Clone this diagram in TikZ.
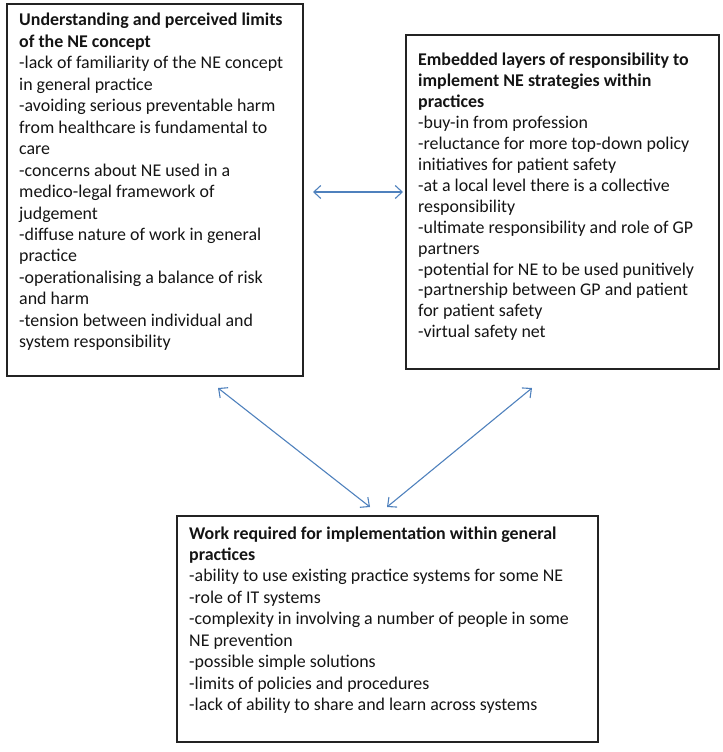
\documentclass[tikz,border=0pt]{standalone}
\usepackage{fontspec}
\setmainfont{Carlito}
\usetikzlibrary{arrows.meta,calc}
\definecolor{arrowblue}{RGB}{79,129,189}
\definecolor{boxline}{RGB}{35,35,35}
\definecolor{txtcol}{RGB}{20,20,20}
\begin{document}
\begin{tikzpicture}[x=1bp,y=-1bp,
  box/.style={draw=boxline, line width=1.3bp, inner sep=0pt, outer sep=0pt, anchor=north west},
  txt/.style={anchor=base west, inner sep=0pt, text=txtcol, font=\fontsize{17.9bp}{21.45bp}\selectfont},
  link/.style={draw=arrowblue, line width=1.1bp, {Straight Barb[length=7bp,width=13bp]}-{Straight Barb[length=7bp,width=13bp]}}]
\useasboundingbox (0,0) rectangle (723,752);
% boxes
\node[box, minimum width=296bp, minimum height=372bp] (L) at (7,4) {};
\node[box, minimum width=313bp, minimum height=334bp] (R) at (406,35) {};
\node[box, minimum width=421bp, minimum height=226bp] (B) at (177,516) {};
% texts
\node[txt] (Lt) at (19,26) {\parbox[t]{320bp}{\raggedright
\textbf{Understanding and perceived limits}\\
\textbf{of the NE concept}\\
-lack of familiarity of the NE concept\\
in general practice\\
-avoiding serious preventable harm\\
from healthcare is fundamental to\\
care\\
-concerns about NE used in a\\
medico-legal framework of\\
judgement\\
-diffuse nature of work in general\\
practice\\
-operationalising a balance of risk\\
and harm\\
-tension between individual and\\
system responsibility}};
\node[txt] (Rt) at (418,66) {\parbox[t]{320bp}{\raggedright\fontsize{17.9bp}{20.9bp}\selectfont
\textbf{Embedded layers of responsibility to}\\
\textbf{implement NE strategies within}\\
\textbf{practices}\\
-buy-in from profession\\
-reluctance for more top-down policy\\
initiatives for patient safety\\
-at a local level there is a collective\\
responsibility\\
-ultimate responsibility and role of GP\\
partners\\
-potential for NE to be used punitively\\
-partnership between GP and patient\\
for patient safety\\
-virtual safety net}};
\node[txt] (Bt) at (189,539) {\parbox[t]{420bp}{\raggedright
\textbf{Work required for implementation within general}\\
\textbf{practices}\\
-ability to use existing practice systems for some NE\\
-role of IT systems\\
-complexity in involving a number of people in some\\
NE prevention\\
-possible simple solutions\\
-limits of policies and procedures\\
-lack of ability to share and learn across systems}};
% connector ends
\coordinate (h1) at ([xshift=10bp]L.east |- 0,192);
\coordinate (h2) at ([xshift=-3bp]R.west |- 0,192);
\coordinate (d1) at ([xshift=211bp,yshift=-12bp]L.south west);
\coordinate (d2) at ([xshift=193bp,yshift=9bp]B.north west);
\coordinate (d3) at ([xshift=126bp,yshift=-19bp]R.south west);
\coordinate (d4) at ([xshift=210bp,yshift=9bp]B.north west);
\draw[link] (h1) -- (h2);
\draw[link] (d1) -- (d2);
\draw[link] (d3) -- (d4);
\end{tikzpicture}
\end{document}
